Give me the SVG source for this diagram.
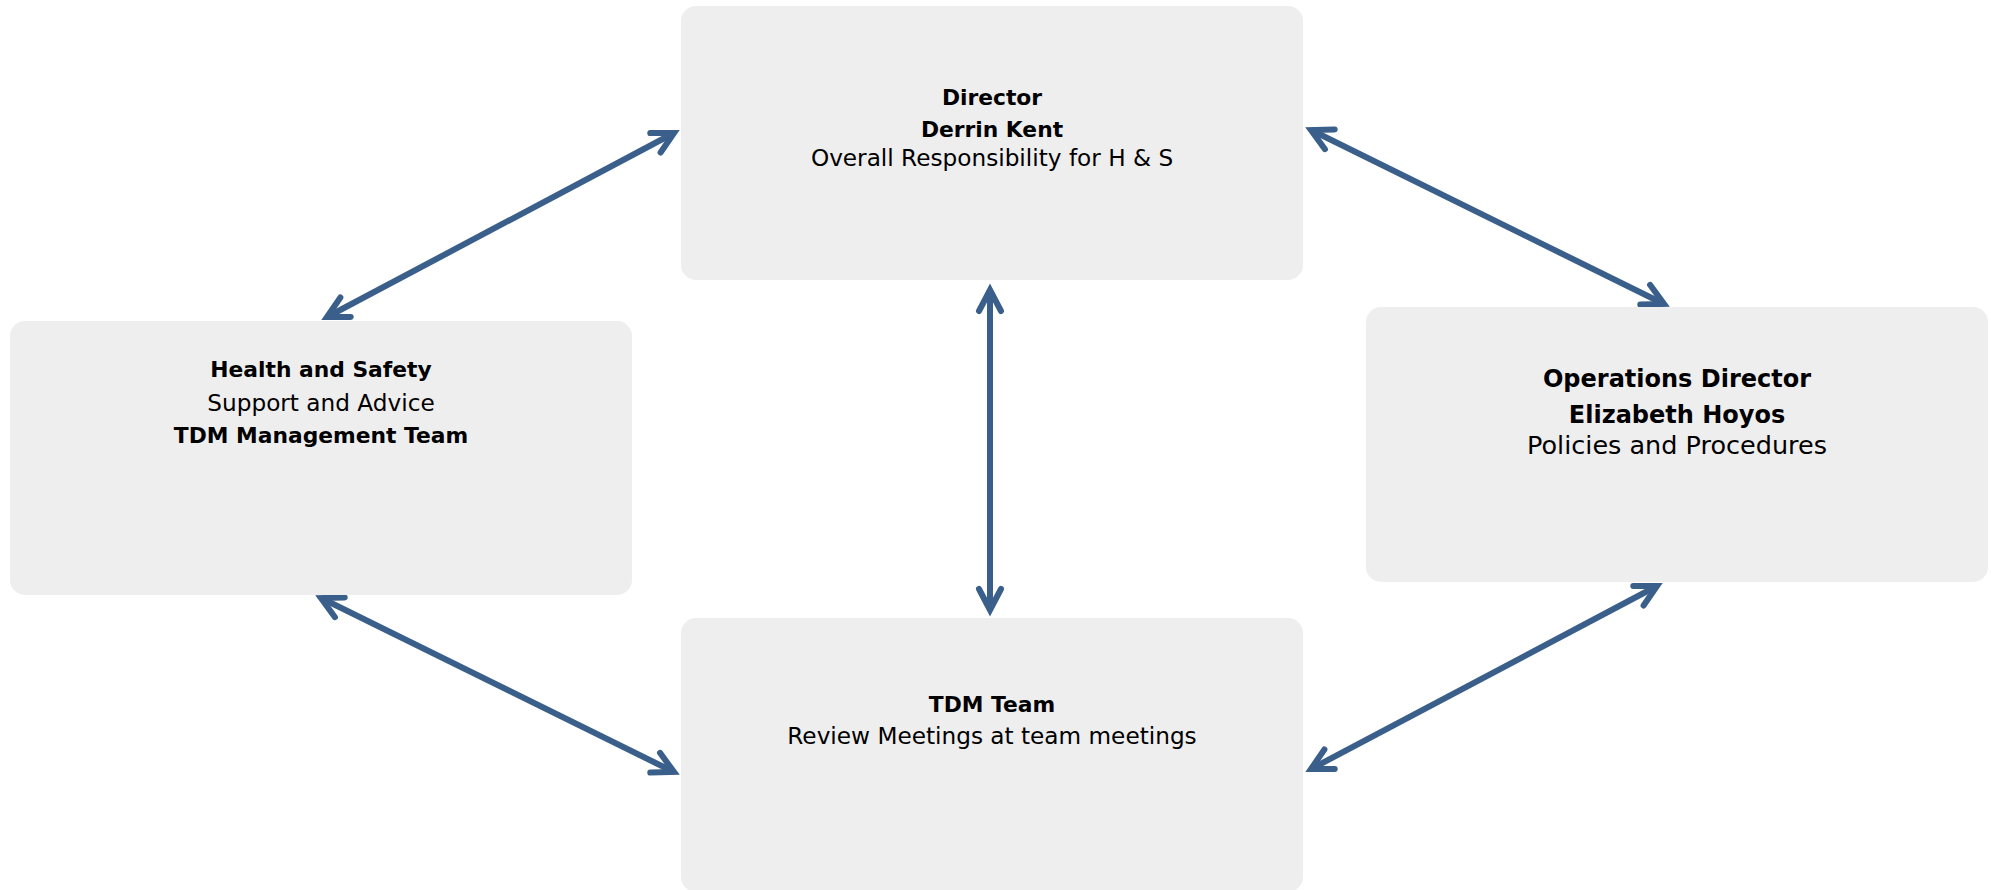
<svg xmlns="http://www.w3.org/2000/svg" width="1991" height="890" viewBox="0 0 1991 890">
<style>
  .box { fill: #EEEEEE; }
  .t { font-family: "DejaVu Sans", "Liberation Sans", sans-serif; fill: #000; text-anchor: middle; }
  .b { font-weight: bold; font-size: 21.8px; }
  .r { font-size: 23.2px; }
  .bl { font-weight: bold; font-size: 24px; }
  .rl { font-size: 25.5px; }
  .conn { stroke: #3A5F8B; stroke-width: 6; fill: none; marker-start: url(#arr); marker-end: url(#arr); }
</style>
<defs>
  <marker id="arr" markerUnits="userSpaceOnUse" viewBox="-30 -20 40 40" refX="0" refY="0" markerWidth="40" markerHeight="40" orient="auto-start-reverse" overflow="visible">
    <path d="M -21 -11 L 0 0 L -21 11" fill="none" stroke="#3A5F8B" stroke-width="6" stroke-linecap="round" stroke-linejoin="miter"/>
  </marker>
</defs>
<g id="connectors">
  <line class="conn" x1="327" y1="317" x2="674" y2="133"/>
  <line class="conn" x1="1311" y1="130" x2="1664" y2="304"/>
  <line class="conn" x1="990" y1="290" x2="990" y2="610"/>
  <line class="conn" x1="321" y1="598" x2="674" y2="772"/>
  <line class="conn" x1="1311" y1="769" x2="1657" y2="586"/>
</g>
<g id="director">
  <rect class="box" x="681" y="6" width="622" height="274" rx="15"/>
  <text class="t b" x="992" y="105">Director</text>
  <text class="t b" x="992" y="137">Derrin Kent</text>
  <text class="t r" x="992" y="166">Overall Responsibility for H &amp; S</text>
</g>
<g id="health-safety">
  <rect class="box" x="10" y="321" width="622" height="274" rx="15"/>
  <text class="t b" x="321" y="377">Health and Safety</text>
  <text class="t r" x="321" y="411">Support and Advice</text>
  <text class="t b" x="321" y="443">TDM Management Team</text>
</g>
<g id="operations-director">
  <rect class="box" x="1366" y="307" width="622" height="275" rx="15"/>
  <text class="t bl" x="1677" y="387">Operations Director</text>
  <text class="t bl" x="1677" y="423">Elizabeth Hoyos</text>
  <text class="t rl" x="1677" y="454">Policies and Procedures</text>
</g>
<g id="tdm-team">
  <rect class="box" x="681" y="618" width="622" height="274" rx="15"/>
  <text class="t b" x="992" y="712">TDM Team</text>
  <text class="t r" x="992" y="744">Review Meetings at team meetings</text>
</g>
</svg>
